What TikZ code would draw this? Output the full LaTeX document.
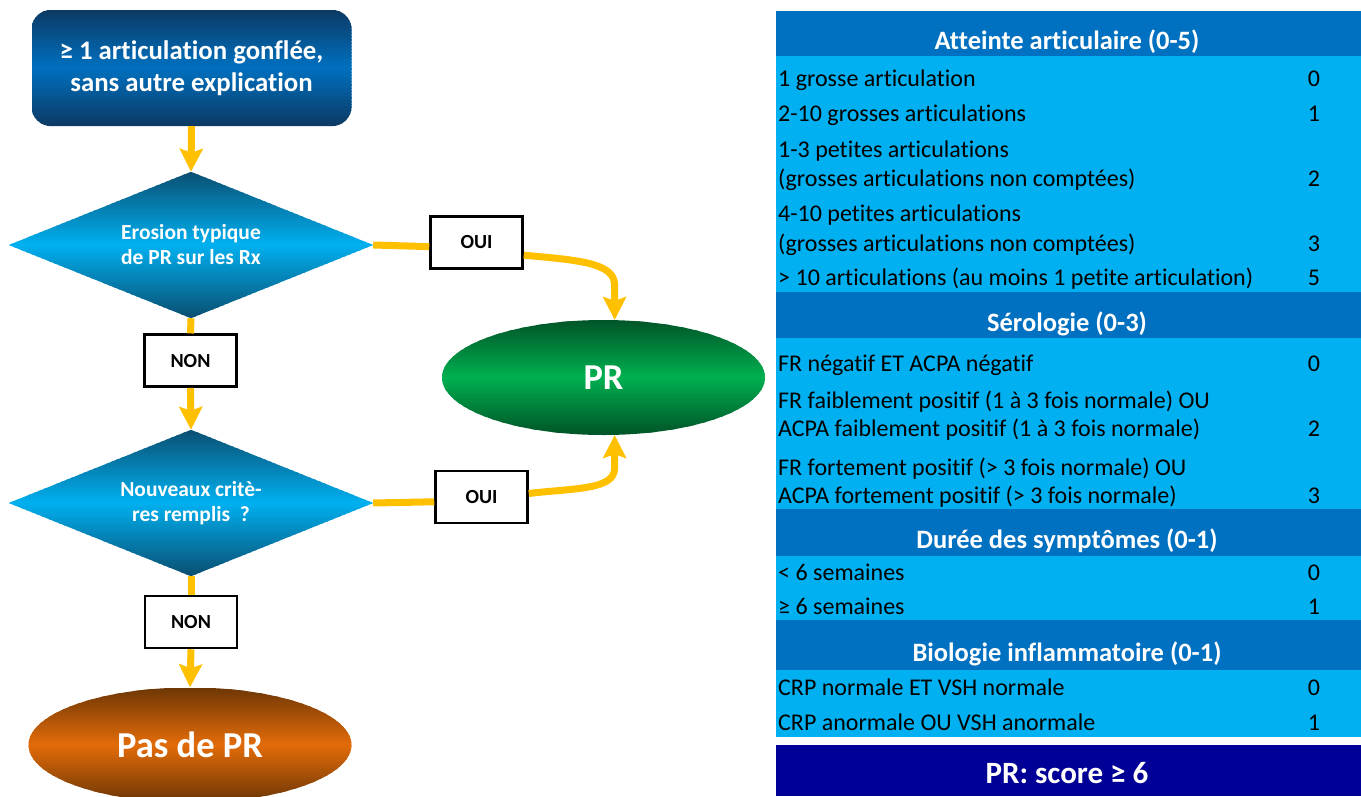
\documentclass[tikz,border=0pt]{standalone}
\usepackage{fontspec}
\setmainfont{Carlito}[Ligatures=NoCommon]
\usetikzlibrary{arrows.meta,shapes.geometric,backgrounds}
\definecolor{ylw}{HTML}{FFC000}
\definecolor{hdr}{HTML}{0070C0}
\definecolor{lgt}{HTML}{00B0F0}
\definecolor{navy}{RGB}{0,0,150}
\definecolor{boxdark}{RGB}{12,58,100}
\definecolor{dmdark}{RGB}{10,80,115}
\definecolor{grdark}{RGB}{0,85,40}
\definecolor{grmid}{HTML}{00B050}
\definecolor{ordark}{RGB}{110,55,5}
\definecolor{ormid}{HTML}{E36C09}
% vertical gradient: dark at top and bottom, mid colour in the middle
\newcommand{\vgrad}[6]{%
  \foreach \i in {0,...,79}{%
    \pgfmathsetmacro{\pp}{abs(\i-39.5)/39.5*100}%
    \pgfmathsetmacro{\ya}{#3+(#4-#3)*\i/80}%
    \pgfmathsetmacro{\yb}{#3+(#4-#3)*(\i+1.4)/80}%
    \fill[#5!\pp!#6] (#1,\ya) rectangle (#2,\yb);
  }}
\begin{document}
\begin{tikzpicture}[x=1pt,y=1pt,
  yline/.style={draw=ylw, line width=7pt},
  yarrow/.style={yline, -{Stealth[width=23pt,length=23pt,inset=4pt]}},
  lbl/.style={draw=black, line width=2.5pt, fill=white, minimum width=92pt, minimum height=52pt, inner sep=0pt, font=\bfseries\fontsize{20}{24}\selectfont},
  dmd/.style={diamond, aspect=2.5, minimum width=364pt, minimum height=146pt, inner sep=0pt, text=white, align=center, font=\bfseries\fontsize{21.5}{25}\selectfont},
  startbox/.style={rectangle, rounded corners=20pt, minimum width=320pt, minimum height=116pt, inner sep=0pt, text=white, align=center, font=\bfseries\fontsize{26.8}{31.4}\selectfont},
  endell/.style={ellipse, minimum width=323pt, minimum height=115pt, inner sep=0pt, text=white, font=\bfseries\fontsize{36.5}{40}\selectfont},
  hd/.style={anchor=base, inner sep=0pt, text=white, font=\bfseries\fontsize{26.5}{30}\selectfont},
  rowtxt/.style={anchor=base west, inner sep=0pt, text=black, font=\fontsize{24}{28}\selectfont},
  val/.style={anchor=base, inner sep=0pt, text=black, font=\fontsize{24}{28}\selectfont}
]
\useasboundingbox (0,0) rectangle (1361,-796);

% ---------- table ----------
\fill[hdr] (776,-11) rectangle (1361,-55.7);
\fill[lgt] (776,-55.7) rectangle (1361,-291.7);
\fill[hdr] (776,-291.7) rectangle (1361,-337.7);
\fill[lgt] (776,-337.7) rectangle (1361,-509.3);
\fill[hdr] (776,-509.3) rectangle (1361,-556);
\fill[lgt] (776,-556) rectangle (1361,-620);
\fill[hdr] (776,-620) rectangle (1361,-670);
\fill[lgt] (776,-670) rectangle (1361,-737.3);
\fill[navy] (776,-745) rectangle (1361,-796);

\node[hd] (h1) at (1067,-49.3) {Atteinte articulaire (0-5)};
\node[rowtxt] (r1) at (778,-86.7) {1 grosse articulation};
\node[val] (v1) at (1314,-86.7) {0};
\node[rowtxt] (r2) at (778,-121.7) {2-10 grosses articulations};
\node[val] (v2) at (1314,-121.7) {1};
\node[rowtxt] (r3a) at (778,-157.3) {1-3 petites articulations};
\node[rowtxt] (r3b) at (778,-186.7) {(grosses articulations non comptées)};
\node[val] (v3) at (1314,-186.7) {2};
\node[rowtxt] (r4a) at (778,-221.7) {4-10 petites articulations};
\node[rowtxt] (r4b) at (778,-251.7) {(grosses articulations non comptées)};
\node[val] (v4) at (1314,-251.7) {3};
\node[rowtxt] (r5) at (778,-285) {> 10 articulations (au moins 1 petite articulation)};
\node[val] (v5) at (1314,-285) {5};

\node[hd] (h2) at (1067,-331.7) {Sérologie (0-3)};
\node[rowtxt] (s1) at (778,-371.7) {FR négatif ET ACPA négatif};
\node[val] (w1) at (1314,-371.7) {0};
\node[rowtxt] (s2a) at (778,-408.3) {FR faiblement positif (1 à 3 fois normale) OU};
\node[rowtxt] (s2b) at (778,-436.7) {ACPA faiblement positif (1 à 3 fois normale)};
\node[val] (w2) at (1314,-436.7) {2};
\node[rowtxt] (s3a) at (778,-475) {FR fortement positif (> 3 fois normale) OU};
\node[rowtxt] (s3b) at (778,-503.3) {ACPA fortement positif (> 3 fois normale)};
\node[val] (w3) at (1314,-503.3) {3};

\node[hd] (h3) at (1067,-548.3) {Durée des symptômes (0-1)};
\node[rowtxt] (t1) at (778,-580.7) {< 6 semaines};
\node[val] (u1) at (1314,-580.7) {0};
\node[rowtxt] (t2) at (778,-614) {≥ 6 semaines};
\node[val] (u2) at (1314,-614) {1};

\node[hd] (h4) at (1067,-661.7) {Biologie inflammatoire (0-1)};
\node[rowtxt] (b1) at (778,-695) {CRP normale ET VSH normale};
\node[val] (z1) at (1314,-695) {0};
\node[rowtxt] (b2) at (778,-730) {CRP anormale OU VSH anormale};
\node[val] (z2) at (1314,-730) {1};

\node[anchor=base, inner sep=0pt, text=white, font=\bfseries\fontsize{31}{36}\selectfont] (score) at (1067,-783.3) {PR: score ≥ 6};

% ---------- flowchart ----------
\node[startbox] (top) at (191.5,-68) {≥ 1 articulation gonflée,\\sans autre explication};
\node[dmd] (d1) at (191,-245) {Erosion typique\\de PR sur les Rx};
\node[dmd] (d2) at (191,-503) {Nouveaux critè-\\res remplis\ \ ?};
\node[endell] (pr) at (603.5,-377.5) {PR};
\node[endell] (pas) at (190,-745) {Pas de PR};

% gradient fills behind the node texts
\begin{scope}[on background layer]
  \begin{scope}
    \clip[rounded corners=20pt] (top.south west) rectangle (top.north east);
    \vgrad{31.5}{351.5}{-10}{-126}{boxdark}{hdr}
  \end{scope}
  \begin{scope}
    \clip (d1.north) -- (d1.east) -- (d1.south) -- (d1.west) -- cycle;
    \vgrad{8}{374}{-172}{-318}{dmdark}{lgt}
  \end{scope}
  \begin{scope}
    \clip (d2.north) -- (d2.east) -- (d2.south) -- (d2.west) -- cycle;
    \vgrad{8}{374}{-430}{-576}{dmdark}{lgt}
  \end{scope}
  \begin{scope}
    \clip (pr.center) ellipse [x radius=161.5, y radius=57.5];
    \vgrad{441}{766}{-320}{-435}{grdark}{grmid}
  \end{scope}
  \begin{scope}
    \clip (pas.center) ellipse [x radius=161.5, y radius=57.5];
    \vgrad{27}{353}{-687.5}{-802.5}{ordark}{ormid}
  \end{scope}
\end{scope}

\node[lbl] (non1) at (190.5,-360.7) {NON};
\node[lbl] (non2) at (191,-622) {NON};
\node[lbl] (oui1) at (476.5,-242.5) {OUI};
\node[lbl] (oui2) at (481.5,-496.8) {OUI};

\coordinate (k1) at (614.6,-285);
\coordinate (k2) at (614.6,-468);

\draw[yarrow] (top.south) -- (d1.north);
\draw[yline] (d1.south) -- (non1.north);
\draw[yarrow] (non1.south) -- (d2.north);
\draw[yline] (d2.south) -- (non2.north);
\draw[yarrow] (non2.south) -- (pas.north);
\draw[yline] (d1.east) -- (oui1.-175);
\draw[yarrow] (oui1.-15) .. controls (575,-260) and (614.6,-262) .. (k1) -- (pr.79);
\draw[yline] (d2.east) -- (oui2.-174);
\draw[yarrow] (oui2.4) .. controls (575,-488) and (614.6,-490) .. (k2) -- (pr.-79);
\end{tikzpicture}
\end{document}
